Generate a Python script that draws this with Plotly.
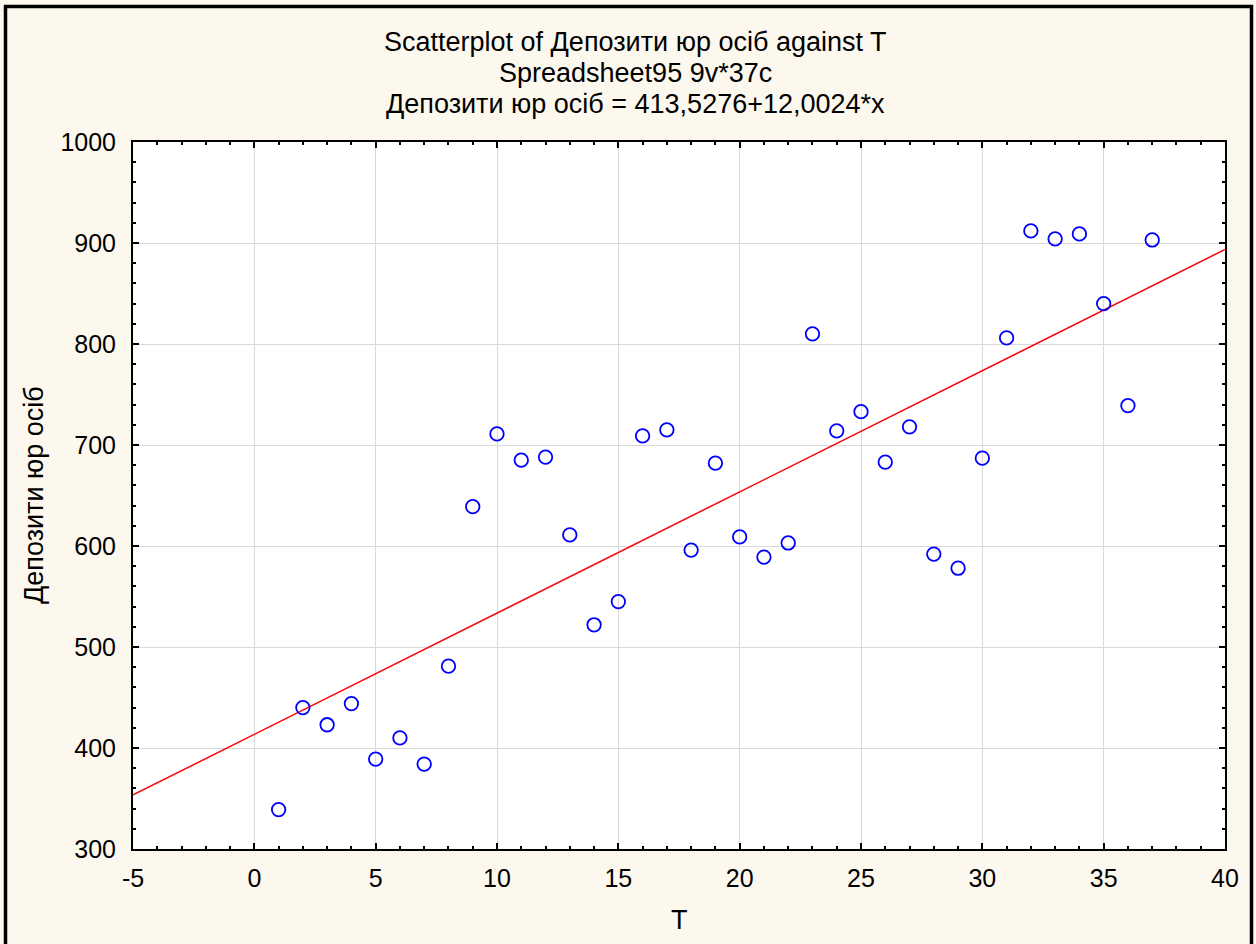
import plotly.graph_objects as go

t_values = list(range(1, 38))
deposits = [339, 440, 423, 444, 389, 410, 384, 481, 639, 711,
            685, 688, 611, 522, 545, 709, 715, 596, 682, 609,
            589, 603, 810, 714, 733, 683, 718, 592, 578, 687,
            806, 912, 904, 909, 840, 739, 903]
intercept = 413.5276
slope = 12.0024
x_range = [-5, 40]
y_range = [300, 1000]
x_ticks = [-5, 0, 5, 10, 15, 20, 25, 30, 35, 40]
x_tick_labels = ["-5", "0", "5", "10", "15", "20", "25", "30", "35", "40"]
y_ticks = [300, 400, 500, 600, 700, 800, 900, 1000]
y_tick_labels = ["300", "400", "500", "600", "700", "800", "900", "1000"]

title_lines = ["Scatterplot of Депозити юр осіб against T",
               "Spreadsheet95 9v*37c",
               "Депозити юр осіб = 413,5276+12,0024*x"]
x_title = "T"
y_title = "Депозити юр осіб"

W, H = 1256, 944
L, R, T, B = 133, 31, 142, 95
pw, ph = W - L - R, H - T - B

def px_to_paper_x(px):
    return (px - L) / pw

def px_to_paper_y(py):
    return (H - B - py) / ph

FONT = "Liberation Sans, Arial, sans-serif"
TICK_FS = 25
TITLE_FS = 27
BG = "#FDF8EE"

fig = go.Figure()
line_x = x_range
line_y = [intercept + slope * v for v in line_x]
fig.add_trace(go.Scatter(x=line_x, y=line_y, mode="lines",
                         line=dict(color="#FF0000", width=1.5), showlegend=False))
fig.add_trace(go.Scatter(x=t_values, y=deposits, mode="markers",
                         marker=dict(symbol="circle-open", size=13.5, color="#0000FF",
                                     line=dict(width=1.8, color="#0000FF")),
                         showlegend=False))

axis_common = dict(
    showgrid=True, gridcolor="#D9D9D9", gridwidth=1, zeroline=False,
    showline=True, linecolor="black", linewidth=2, mirror="allticks",
    ticks="inside", ticklen=6, tickwidth=1.5, tickcolor="black",
    tickfont=dict(family=FONT, size=TICK_FS, color="black"),
    minor=dict(ticks="inside", ticklen=3, tickwidth=1.5, tickcolor="black", showgrid=False),
)

fig.update_xaxes(range=x_range, tickvals=x_ticks, ticktext=x_tick_labels, minor_dtick=1,
                 ticklabelstandoff=6, **axis_common)
fig.update_yaxes(range=y_range, tickvals=y_ticks, ticktext=y_tick_labels, minor_dtick=20,
                 ticklabelstandoff=10, **axis_common)

annotations = []
for text, py in zip(title_lines, [42, 73, 104]):
    annotations.append(dict(text=text, x=px_to_paper_x(635), xref="paper", y=px_to_paper_y(py), yref="paper",
                            xanchor="center", yanchor="middle", showarrow=False,
                            font=dict(family=FONT, size=TITLE_FS, color="black")))
annotations.append(dict(text=x_title, x=px_to_paper_x(679), xref="paper", y=px_to_paper_y(920),
                        yref="paper", xanchor="center", yanchor="middle", showarrow=False,
                        font=dict(family=FONT, size=TITLE_FS, color="black")))
annotations.append(dict(text=y_title, x=px_to_paper_x(34), xref="paper", y=px_to_paper_y(495),
                        yref="paper", xanchor="center", yanchor="middle", showarrow=False,
                        textangle=-90, font=dict(family=FONT, size=TITLE_FS, color="black")))

shapes = [dict(type="rect", xref="paper", yref="paper",
               x0=px_to_paper_x(5.5), x1=px_to_paper_x(1251.5),
               y0=px_to_paper_y(950), y1=px_to_paper_y(6.5),
               line=dict(color="black", width=3.5), fillcolor="rgba(0,0,0,0)", layer="below")]

fig.update_layout(
    width=W, height=H, margin=dict(l=L, r=R, t=T, b=B),
    paper_bgcolor=BG, plot_bgcolor="white",
    annotations=annotations, shapes=shapes,
    font=dict(family=FONT, color="black"),
)

fig.write_html("out.html", config={"displayModeBar": False},
               post_script="document.body.style.margin='0';document.body.style.background='%s';" % BG)
